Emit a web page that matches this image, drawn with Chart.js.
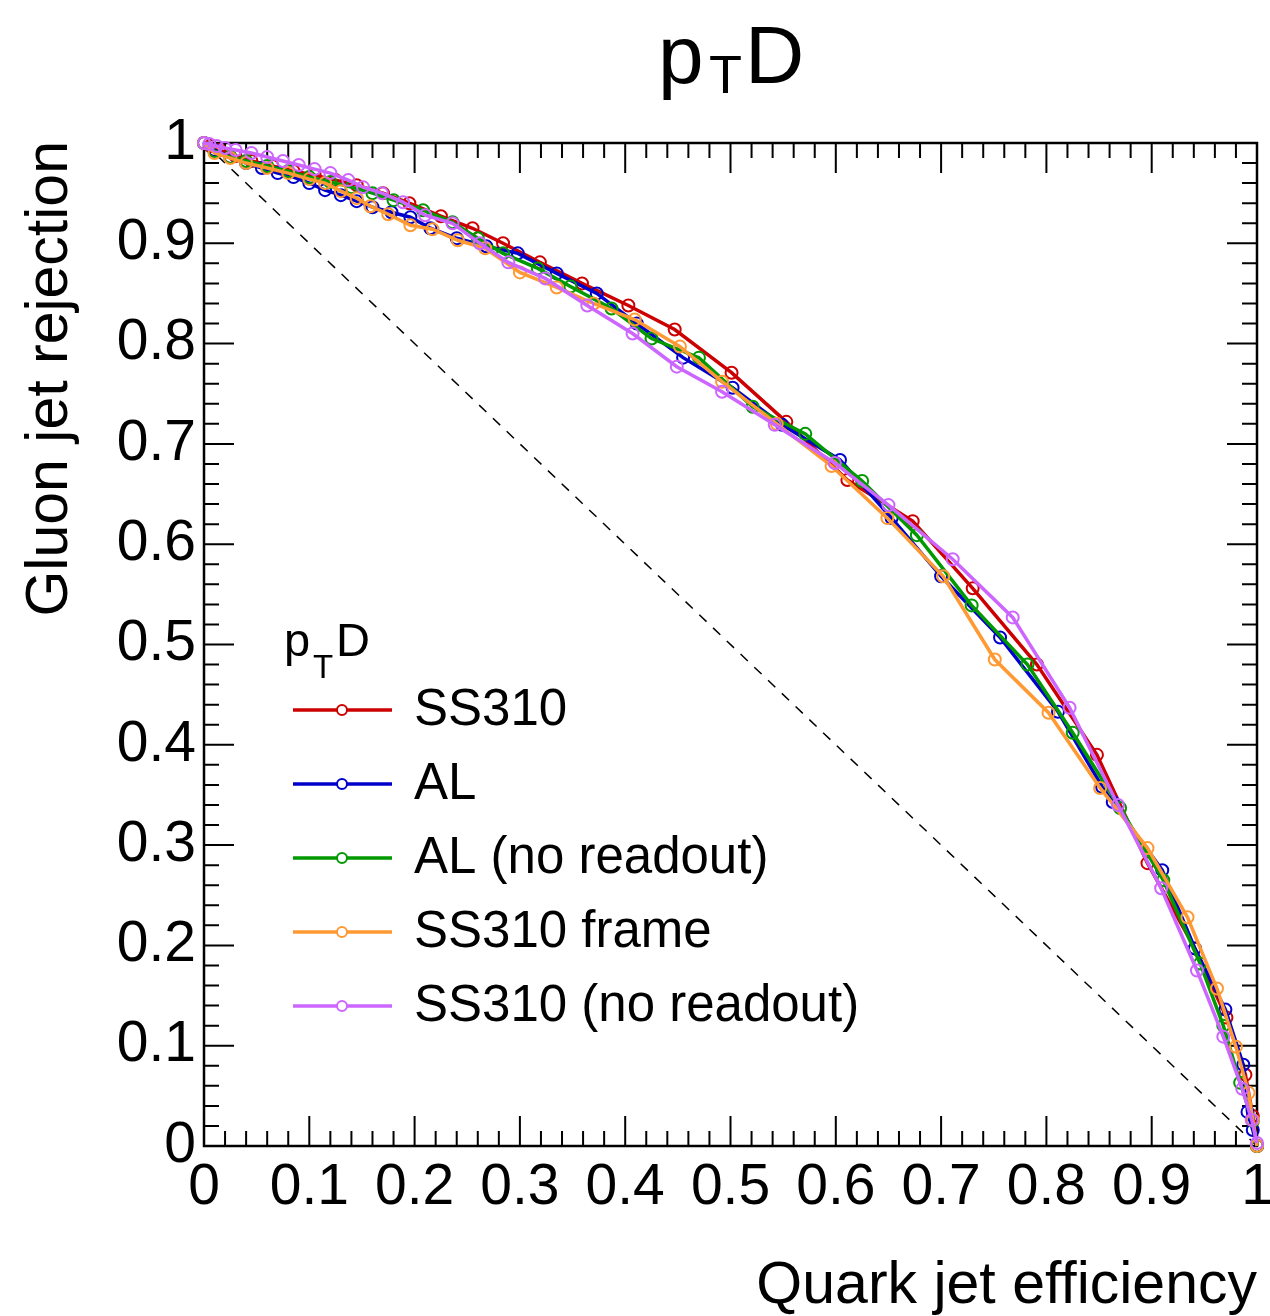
<!DOCTYPE html>
<html>
<head>
<meta charset="utf-8">
<script src="https://cdn.jsdelivr.net/npm/chart.js@4.4.1/dist/chart.umd.min.js"></script>
<style>
    html, body { margin: 0; padding: 0; background: #fff; }
    #wrap { width: 1270px; height: 1316px; position: relative; }
</style>
</head>
<body>
<div id="wrap"><canvas id="roc"></canvas></div>
<script>
// pTD ROC curves: quark efficiency (x) vs gluon rejection (y)

const ss310Eff = [0, 0.006, 0.015, 0.03, 0.045, 0.065, 0.085, 0.105, 0.125, 0.145, 0.17, 0.195, 0.225, 0.255, 0.284, 0.319, 0.359, 0.403, 0.447, 0.501, 0.553, 0.611, 0.673, 0.730, 0.791, 0.848, 0.896, 0.941, 0.971, 0.989, 0.996, 1];
const ss310Rej = [1, 0.997, 0.993, 0.987, 0.982, 0.977, 0.972, 0.968, 0.963, 0.958, 0.950, 0.940, 0.927, 0.915, 0.900, 0.881, 0.860, 0.838, 0.814, 0.771, 0.722, 0.664, 0.623, 0.556, 0.480, 0.390, 0.282, 0.197, 0.128, 0.071, 0.030, 0];

const alEff = [0, 0.01, 0.025, 0.04, 0.055, 0.07, 0.085, 0.1, 0.115, 0.13, 0.145, 0.16, 0.178, 0.196, 0.215, 0.24, 0.268, 0.298, 0.335, 0.373, 0.411, 0.455, 0.502, 0.549, 0.604, 0.653, 0.70, 0.756, 0.811, 0.853, 0.863, 0.910, 0.941, 0.970, 0.987, 0.991, 0.996, 1];
const alRej = [1, 0.993, 0.986, 0.980, 0.975, 0.970, 0.966, 0.960, 0.953, 0.948, 0.942, 0.936, 0.931, 0.926, 0.915, 0.905, 0.897, 0.890, 0.870, 0.850, 0.820, 0.786, 0.756, 0.719, 0.684, 0.626, 0.568, 0.507, 0.433, 0.358, 0.343, 0.275, 0.197, 0.136, 0.081, 0.034, 0.016, 0];

const alNoroEff = [0, 0.01, 0.025, 0.04, 0.06, 0.08, 0.1, 0.12, 0.14, 0.16, 0.18, 0.208, 0.236, 0.26, 0.284, 0.317, 0.348, 0.387, 0.425, 0.470, 0.521, 0.571, 0.625, 0.677, 0.729, 0.782, 0.825, 0.870, 0.911, 0.946, 0.968, 0.984, 0.996, 1];
const alNoroRej = [1, 0.992, 0.986, 0.982, 0.977, 0.972, 0.966, 0.961, 0.956, 0.950, 0.943, 0.933, 0.921, 0.905, 0.890, 0.875, 0.857, 0.835, 0.805, 0.786, 0.737, 0.710, 0.663, 0.609, 0.539, 0.480, 0.412, 0.337, 0.265, 0.182, 0.12, 0.063, 0.025, 0];

const frameEff = [0, 0.01, 0.025, 0.04, 0.06, 0.08, 0.1, 0.115, 0.13, 0.145, 0.158, 0.175, 0.196, 0.217, 0.241, 0.267, 0.300, 0.335, 0.370, 0.409, 0.452, 0.492, 0.544, 0.596, 0.649, 0.702, 0.751, 0.802, 0.851, 0.896, 0.934, 0.962, 0.980, 0.992, 0.996, 1];
const frameRej = [1, 0.99, 0.985, 0.98, 0.975, 0.97, 0.964, 0.960, 0.952, 0.945, 0.937, 0.929, 0.918, 0.914, 0.903, 0.895, 0.871, 0.856, 0.840, 0.824, 0.797, 0.762, 0.720, 0.678, 0.626, 0.568, 0.485, 0.432, 0.357, 0.297, 0.228, 0.157, 0.099, 0.053, 0.026, 0];

const ssNoroEff = [0, 0.005, 0.012, 0.02, 0.03, 0.045, 0.06, 0.075, 0.09, 0.105, 0.12, 0.137, 0.151, 0.169, 0.189, 0.210, 0.236, 0.262, 0.289, 0.324, 0.364, 0.407, 0.449, 0.492, 0.542, 0.599, 0.650, 0.711, 0.768, 0.822, 0.868, 0.909, 0.943, 0.968, 0.986, 0.995, 1];
const ssNoroRej = [1, 0.999, 0.997, 0.995, 0.993, 0.990, 0.986, 0.982, 0.978, 0.974, 0.970, 0.963, 0.956, 0.950, 0.941, 0.928, 0.920, 0.900, 0.881, 0.865, 0.838, 0.810, 0.777, 0.752, 0.719, 0.681, 0.639, 0.585, 0.527, 0.437, 0.340, 0.257, 0.175, 0.109, 0.057, 0.026, 0.003];

const seriesNames = ['SS310', 'AL', 'AL (no readout)', 'SS310 frame', 'SS310 (no readout)'];
const seriesColors = ['#cc0000', '#0000cc', '#009900', '#ff9933', '#cc66ff'];

const xTicks = [0, 0.1, 0.2, 0.3, 0.4, 0.5, 0.6, 0.7, 0.8, 0.9, 1];
const yTicks = [0, 0.1, 0.2, 0.3, 0.4, 0.5, 0.6, 0.7, 0.8, 0.9, 1];

const FONT = '"Liberation Sans", Arial, Helvetica, sans-serif';

function toPoints(xs, ys) {
    return xs.map((x, i) => ({ x: x, y: ys[i] }));
}

const curves = [
    toPoints(ss310Eff, ss310Rej),
    toPoints(alEff, alRej),
    toPoints(alNoroEff, alNoroRej),
    toPoints(frameEff, frameRej),
    toPoints(ssNoroEff, ssNoroRej)
];

const datasets = curves.map((pts, i) => ({
    label: seriesNames[i],
    data: pts,
    showLine: true,
    clip: false,
    borderColor: seriesColors[i],
    borderWidth: 3.5,
    pointRadius: 6,
    pointBorderWidth: 2,
    pointBorderColor: seriesColors[i],
    pointBackgroundColor: 'rgba(0,0,0,0)',
    order: 5 - i
}));

// random-guess diagonal
datasets.push({
    label: 'diag',
    data: [{ x: 0, y: 1 }, { x: 1, y: 0 }],
    showLine: true,
    borderColor: '#000',
    borderWidth: 1.5,
    borderDash: [10, 9],
    pointRadius: 0,
    order: 10
});

// frame, ticks on all four sides, titles and legend
const rootStyle = {
    id: 'rootStyle',
    beforeDatasetsDraw(chart) {
        const ctx = chart.ctx;
        const a = chart.chartArea;
        const xs = chart.scales.x;
        const ys = chart.scales.y;

        ctx.save();
        ctx.strokeStyle = '#000';
        ctx.lineWidth = 2.5;
        ctx.strokeRect(a.left, a.top, a.right - a.left, a.bottom - a.top);

        ctx.lineWidth = 2;
        for (let k = 0; k <= 50; k++) {
            const v = k / 50;
            const len = (k % 5 === 0) ? 30 : 15;
            const px = xs.getPixelForValue(v);
            const py = ys.getPixelForValue(v);
            ctx.beginPath();
            ctx.moveTo(px, a.bottom); ctx.lineTo(px, a.bottom - len);
            ctx.moveTo(px, a.top); ctx.lineTo(px, a.top + len);
            ctx.moveTo(a.left, py); ctx.lineTo(a.left + len, py);
            ctx.moveTo(a.right, py); ctx.lineTo(a.right - len, py);
            ctx.stroke();
        }
        ctx.restore();
    },
    afterDraw(chart) {
        const ctx = chart.ctx;
        const a = chart.chartArea;

        ctx.save();
        ctx.fillStyle = '#000';
        ctx.textBaseline = 'alphabetic';

        // title p_T D
        ctx.textAlign = 'left';
        ctx.font = '82px ' + FONT;
        ctx.fillText('p', 658, 83);
        ctx.fillText('D', 745, 83);
        ctx.font = '54px ' + FONT;
        ctx.fillText('T', 709, 93);

        // axis titles
        ctx.font = '59px ' + FONT;
        ctx.textAlign = 'right';
        ctx.fillText('Quark jet efficiency', a.right, 1303);
        ctx.save();
        ctx.translate(67, a.top - 2);
        ctx.rotate(-Math.PI / 2);
        ctx.fillText('Gluon jet rejection', 0, 0);
        ctx.restore();

        // legend
        ctx.textAlign = 'left';
        ctx.font = '47px ' + FONT;
        ctx.fillText('p', 284, 656);
        ctx.fillText('D', 336, 656);
        ctx.font = '33px ' + FONT;
        ctx.fillText('T', 313, 678);

        const rows = [710, 784, 858, 932, 1006];
        rows.forEach((ry, i) => {
            ctx.strokeStyle = seriesColors[i];
            ctx.lineWidth = 3.5;
            ctx.beginPath();
            ctx.moveTo(293, ry); ctx.lineTo(392, ry);
            ctx.stroke();
            ctx.lineWidth = 2;
            ctx.fillStyle = '#fff';
            ctx.beginPath();
            ctx.arc(342, ry, 5, 0, Math.PI * 2);
            ctx.fill();
            ctx.stroke();
            ctx.fillStyle = '#000';
            ctx.font = '51px ' + FONT;
            ctx.textBaseline = 'middle';
            ctx.fillText(seriesNames[i], 414, ry + 1);
            ctx.textBaseline = 'alphabetic';
        });
        ctx.restore();
    }
};

new Chart(document.getElementById('roc'), {
    type: 'scatter',
    data: { datasets: datasets },
    options: {
        responsive: true,
        maintainAspectRatio: false,
        animation: false,
        layout: { padding: { left: 0, right: 13, top: 143, bottom: 0 } },
        plugins: {
            legend: { display: false },
            tooltip: { enabled: false },
            title: { display: false }
        },
        scales: {
            x: {
                type: 'linear',
                min: 0,
                max: 1,
                afterFit(scale) {
                    scale.height = 170;
                    scale.paddingLeft = 0;
                    scale.paddingRight = 0;
                },
                afterBuildTicks(scale) { scale.ticks = xTicks.map(v => ({ value: v })); },
                grid: { display: false, drawTicks: false },
                border: { display: false },
                ticks: {
                    color: '#000',
                    padding: 8,
                    maxRotation: 0,
                    autoSkip: false,
                    font: { family: FONT, size: 57 },
                    callback: v => String(Math.round(v * 10) / 10)
                }
            },
            y: {
                type: 'linear',
                min: 0,
                max: 1,
                afterFit(scale) {
                    scale.width = 204;
                    scale.paddingTop = 0;
                    scale.paddingBottom = 0;
                },
                afterBuildTicks(scale) { scale.ticks = yTicks.map(v => ({ value: v })); },
                grid: { display: false, drawTicks: false },
                border: { display: false },
                ticks: {
                    color: '#000',
                    padding: 8,
                    autoSkip: false,
                    font: { family: FONT, size: 57 },
                    callback: v => String(Math.round(v * 10) / 10)
                }
            }
        }
    },
    plugins: [rootStyle]
});
</script>
</body>
</html>
